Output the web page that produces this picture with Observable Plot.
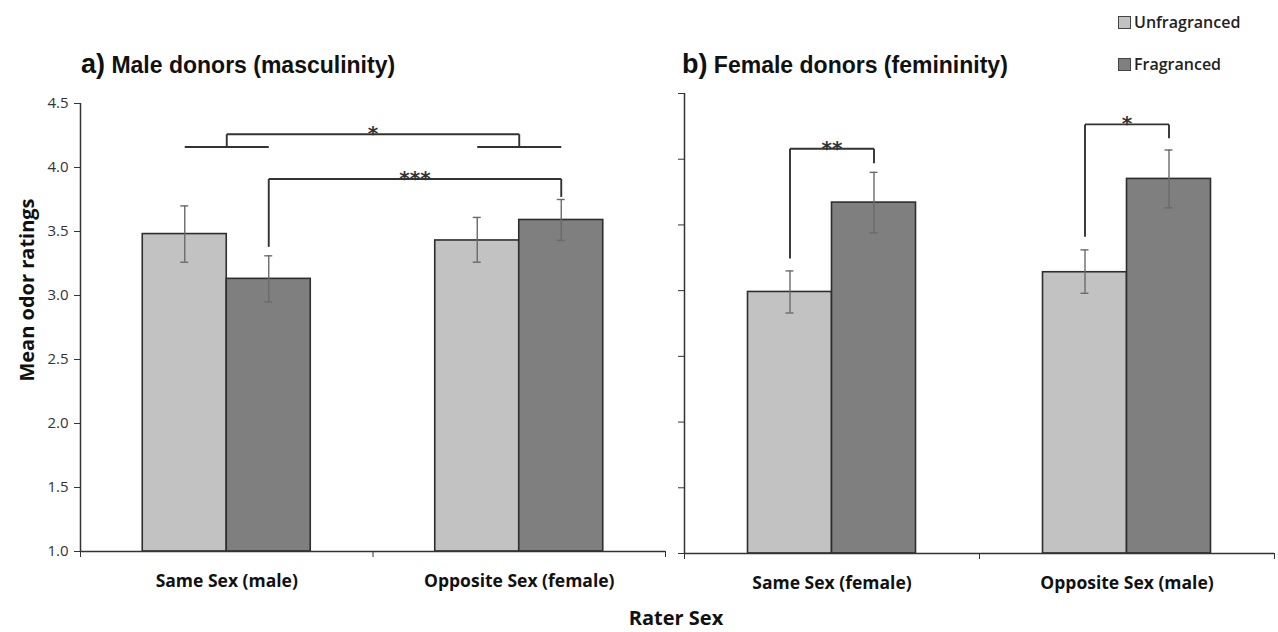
<!DOCTYPE html>
<html><head><meta charset="utf-8">
<script src="https://cdn.jsdelivr.net/npm/d3@7"></script>
<script src="https://cdn.jsdelivr.net/npm/@observablehq/plot@0.6"></script>
<style>
body{margin:0;background:#fff;}
#wrap{position:relative;width:1278px;height:632px;overflow:hidden;font-family:"Open Sans",sans-serif;background:#fff;}
.abs{position:absolute;white-space:nowrap;}
.title{font-family:"Liberation Sans",Arial,sans-serif;font-weight:700;font-size:23px;color:#111;line-height:1;}
.title .lt{font-size:27px;}
.leg{font-family:"Open Sans",sans-serif;font-weight:600;font-size:16px;color:#222;display:flex;align-items:center;line-height:1;}
.sw{width:11px;height:11px;border:1px solid #444;margin-right:3px;}
.axt{font-family:"Open Sans",sans-serif;font-weight:700;font-size:20px;color:#111;line-height:1;}
</style></head>
<body><div id="wrap"></div>
<script>
// ---------------- data ----------------
const conditions = ["Unfragranced", "Fragranced"];
const maleCategories = ["Same Sex (male)", "Opposite Sex (female)"];
const femaleCategories = ["Same Sex (female)", "Opposite Sex (male)"];
// order: cat0-Unfragranced, cat0-Fragranced, cat1-Unfragranced, cat1-Fragranced
const maleMean = [3.48, 3.13, 3.43, 3.59];
const maleLow  = [3.26, 2.95, 3.26, 3.43];
const maleHigh = [3.70, 3.31, 3.61, 3.75];
const femaleMean = [2.99, 3.67, 3.14, 3.85];
const femaleLow  = [2.83, 3.44, 2.98, 3.63];
const femaleHigh = [3.15, 3.90, 3.31, 4.07];
const yTicks = [1.0, 1.5, 2.0, 2.5, 3.0, 3.5, 4.0, 4.5];
// significance brackets (bar indices or category indices, value levels)
const maleBrackets = [
  {label: "*", kind: "group", from: 0, to: 1, level: 4.26, dropFrom: 4.16, dropTo: 4.16},
  {label: "***", kind: "bar", from: 1, to: 3, level: 3.91, dropFrom: 3.38, dropTo: 3.77}
];
const femaleBrackets = [
  {label: "**", kind: "bar", from: 0, to: 1, level: 4.08, dropFrom: 3.245, dropTo: 3.97},
  {label: "*", kind: "bar", from: 2, to: 3, level: 4.265, dropFrom: 3.41, dropTo: 4.16}
];

// ---------------- styles ----------------
const colors = {Unfragranced: "#c2c2c2", Fragranced: "#7f7f7f"};
const BAR_PX = 84;
const CAP_PX = 4;

function panel({categories, mean, low, high, brackets, left, width, margins, showTickLabels}) {
  const pxPerUnit = (width - margins.left - margins.right) / 2;
  const bw = BAR_PX / pxPerUnit;
  const cap = CAP_PX / pxPerUnit;
  const rows = mean.map((m, i) => {
    const cat = Math.floor(i / 2), ci = i % 2;
    const c = cat + 0.5 + (ci === 0 ? -bw / 2 : bw / 2);
    return {cat, cond: conditions[ci], mean: m, low: low[i], high: high[i], c, x1: c - bw / 2, x2: c + bw / 2};
  });
  const segs = [];
  const stars = [];
  for (const b of brackets) {
    if (b.kind === "group") {
      const g = [b.from, b.to].map(k => k + 0.5);
      for (const k of [b.from, b.to]) {
        segs.push({x1: rows[2 * k].c, x2: rows[2 * k + 1].c, y1: b.dropFrom, y2: b.dropFrom});
      }
      segs.push({x1: g[0], x2: g[0], y1: b.dropFrom, y2: b.level});
      segs.push({x1: g[0], x2: g[1], y1: b.level, y2: b.level});
      segs.push({x1: g[1], x2: g[1], y1: b.level, y2: b.dropTo});
      stars.push({x: (g[0] + g[1]) / 2, y: b.level, label: b.label});
    } else {
      const a = rows[b.from].c, z = rows[b.to].c;
      segs.push({x1: a, x2: a, y1: b.dropFrom, y2: b.level});
      segs.push({x1: a, x2: z, y1: b.level, y2: b.level});
      segs.push({x1: z, x2: z, y1: b.level, y2: b.dropTo});
      stars.push({x: (a + z) / 2, y: b.level, label: b.label});
    }
  }
  const caps = rows.flatMap(r => [{x1: r.c - cap, x2: r.c + cap, y: r.low}, {x1: r.c - cap, x2: r.c + cap, y: r.high}]);
  const chart = Plot.plot({
    width, height: 632,
    marginLeft: margins.left, marginRight: margins.right, marginTop: margins.top, marginBottom: margins.bottom,
    style: {fontFamily: "Open Sans, sans-serif", fontSize: "15px", color: "#333", background: "transparent", overflow: "visible"},
    x: {domain: [0, 2], ticks: [0, 1, 2], tickFormat: () => "", tickSize: 6, label: null},
    y: {domain: [1, 4.5], ticks: yTicks, tickFormat: showTickLabels ? (d => d.toFixed(1)) : (() => ""), tickSize: 6, tickPadding: 6, label: null},
    marks: [
      Plot.rectY(rows, {x1: "x1", x2: "x2", y1: 1, y2: "mean", fill: d => colors[d.cond], stroke: "#2e2e2e", strokeWidth: 1.6}),
      Plot.ruleX(rows, {x: "c", y1: "low", y2: "high", stroke: "#6a6a6a", strokeWidth: 1.4}),
      Plot.ruleY(caps, {x1: "x1", x2: "x2", y: "y", stroke: "#6a6a6a", strokeWidth: 1.4}),
      Plot.link(segs, {x1: "x1", x2: "x2", y1: "y1", y2: "y2", stroke: "#333", strokeWidth: 1.9}),
      Plot.text(stars, {x: "x", y: "y", text: "label", lineAnchor: "bottom", dy: 6, fontSize: 20, fontWeight: 700, fontFamily: "DejaVu Sans", fill: "#333"}),
      Plot.ruleX([0], {stroke: "#333", strokeWidth: 1.5}),
      Plot.ruleY([1], {stroke: "#333", strokeWidth: 1.5}),
      Plot.text(categories, {x: (d, i) => i + 0.5, y: 1, text: d => d, dy: 30, fontSize: 17.5, fontWeight: 700, fill: "#111"})
    ]
  });
  chart.style.position = "absolute";
  chart.style.left = left + "px";
  chart.style.top = "0px";
  return chart;
}

const wrap = document.getElementById("wrap");
wrap.appendChild(panel({categories: maleCategories, mean: maleMean, low: maleLow, high: maleHigh, brackets: maleBrackets,
  left: 0, width: 672, margins: {left: 80, right: 7, top: 103, bottom: 81}, showTickLabels: true}));
wrap.appendChild(panel({categories: femaleCategories, mean: femaleMean, low: femaleLow, high: femaleHigh, brackets: femaleBrackets,
  left: 672, width: 606, margins: {left: 12, right: 4, top: 93, bottom: 79}, showTickLabels: false}));

function addDiv(html, cls, css) {
  const d = document.createElement("div");
  d.className = "abs " + cls;
  d.innerHTML = html;
  Object.assign(d.style, css);
  wrap.appendChild(d);
  return d;
}
addDiv('<span class="lt">a)</span> Male donors (masculinity)', "title", {left: "81px", top: "51px"});
addDiv('<span class="lt">b)</span> Female donors (femininity)', "title", {left: "682px", top: "51px"});
addDiv('<span class="sw" style="background:' + colors.Unfragranced + '"></span>' + conditions[0], "leg", {left: "1118px", top: "14px"});
addDiv('<span class="sw" style="background:' + colors.Fragranced + '"></span>' + conditions[1], "leg", {left: "1118px", top: "56px"});
addDiv("Mean odor ratings", "axt", {left: "27px", top: "290px", transform: "translate(-50%,-50%) rotate(-90deg)"});
addDiv("Rater Sex", "axt", {left: "676px", top: "618px", transform: "translate(-50%,-50%)"});
</script>
</body></html>
